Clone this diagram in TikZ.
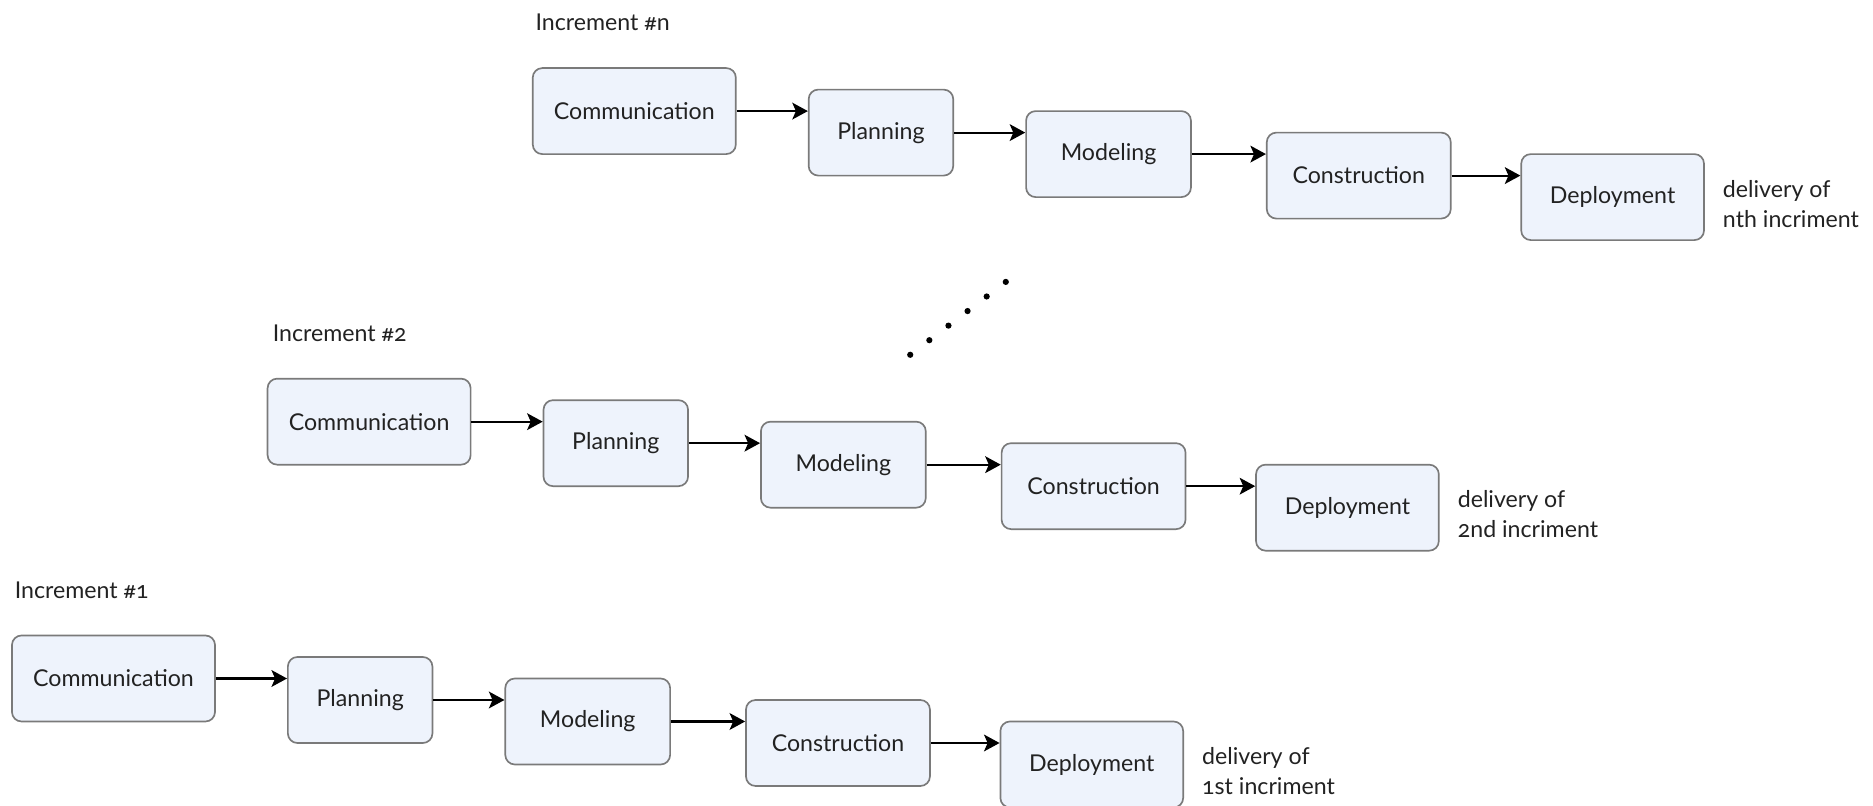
\documentclass[tikz,border=0pt]{standalone}
\usepackage{fontspec}
\setmainfont{Lato}[Numbers=OldStyle]
\usetikzlibrary{arrows.meta}
\definecolor{boxfill}{HTML}{EEF3FC}
\definecolor{boxdraw}{HTML}{7A7A7A}
\definecolor{txt}{HTML}{222222}
\begin{document}
\begin{tikzpicture}[x=0.5pt,y=-0.5pt,
  stage/.style={draw=boxdraw, fill=boxfill, rounded corners=4pt, line width=0.7pt,
    minimum height=36pt, inner sep=0pt, font=\fontsize{9.7}{11.5}\selectfont, text=txt},
  wcomm/.style={minimum width=85pt},
  wplan/.style={minimum width=60.5pt},
  wmod/.style={minimum width=69pt},
  wcons/.style={minimum width=77pt},
  wdep/.style={minimum width=76.5pt},
  flow/.style={-{Stealth[length=6.5pt,width=7pt,inset=1.5pt]}, line width=0.9pt, black},
  lbl/.style={font=\fontsize{9.7}{11.5}\selectfont, text=txt, anchor=west, inner sep=0pt},
  note/.style={align=left, anchor=west, font=\fontsize{9.7}{12.5}\selectfont, text=txt, inner sep=0pt}
]
\useasboundingbox (0,0) rectangle (1568,674);

% Increment #1
\begin{scope}[shift={(0,0)}]
\node[lbl] (inc1) at (12,494) {Increment \#1};
\node[stage,wcomm] (c1) at (95,568) {Communication};
\node[stage,wplan] (p1) at (301.5,586) {Planning};
\node[stage,wmod] (m1) at (492,604) {Modeling};
\node[stage,wcons] (k1) at (701.5,622) {Construction};
\node[stage,wdep] (d1) at (914,640) {Deployment};
\node[note] (n1) at (1006,645.5) {delivery of\\1st incriment};
\end{scope}

% Increment #2
\begin{scope}[shift={(214,-215)}]
\node[lbl] (inc2) at (14,494) {Increment \#2};
\node[stage,wcomm] (c2) at (95,568) {Communication};
\node[stage,wplan] (p2) at (301.5,586) {Planning};
\node[stage,wmod] (m2) at (492,604) {Modeling};
\node[stage,wcons] (k2) at (701.5,622) {Construction};
\node[stage,wdep] (d2) at (914,640) {Deployment};
\node[note] (n2) at (1006,645.5) {delivery of\\2nd incriment};
\end{scope}

% Increment #n
\begin{scope}[shift={(436,-475)}]
\node[lbl] (incn) at (12,494) {Increment \#n};
\node[stage,wcomm] (cn) at (95,568) {Communication};
\node[stage,wplan] (pn) at (301.5,586) {Planning};
\node[stage,wmod] (mn) at (492,604) {Modeling};
\node[stage,wcons] (kn) at (701.5,622) {Construction};
\node[stage,wdep] (dn) at (914,640) {Deployment};
\node[note] (nn) at (1006,645.5) {delivery of\\nth incriment};
\end{scope}

\foreach \r in {1,2,n}{
  \draw[flow] (c\r.east) -- (c\r.east -| p\r.west);
  \draw[flow] (p\r.east) -- (p\r.east -| m\r.west);
  \draw[flow] (m\r.east) -- (m\r.east -| k\r.west);
  \draw[flow] (k\r.east) -- (k\r.east -| d\r.west);
}

% dots between increments
\foreach \i in {0,...,5}{
  \fill (762+16*\i, 297-12.2*\i) circle (1.3pt);
}
\end{tikzpicture}
\end{document}
